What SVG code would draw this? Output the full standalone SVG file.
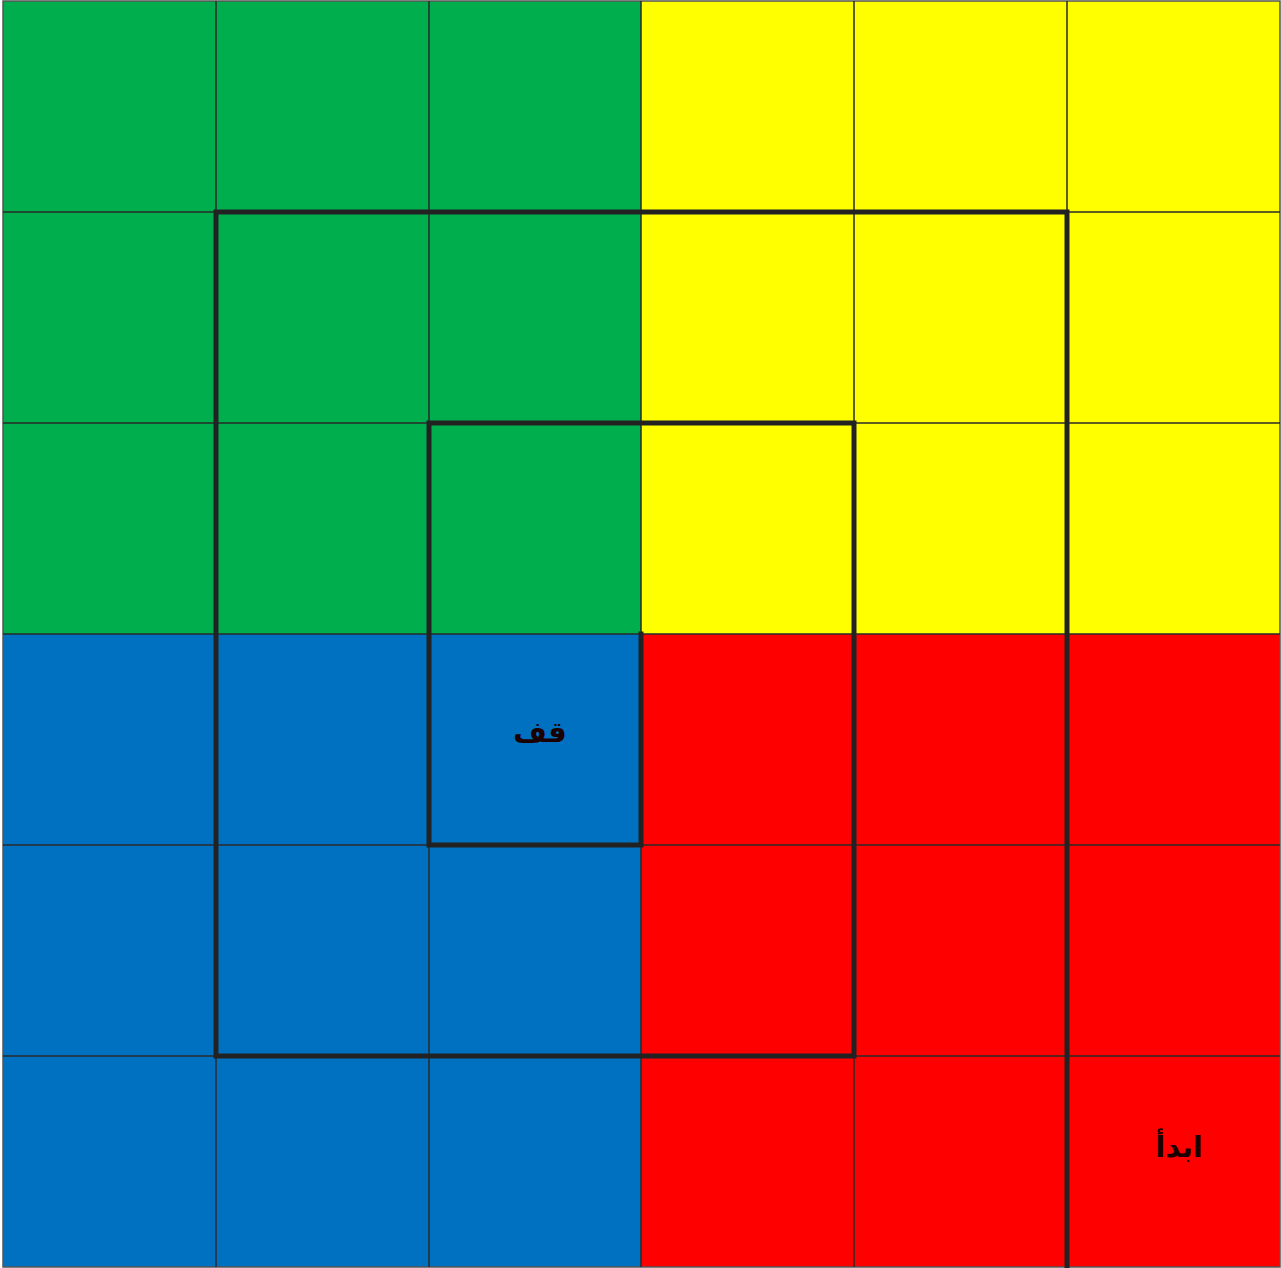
<svg xmlns="http://www.w3.org/2000/svg" width="1281" height="1268" viewBox="0 0 1281 1268">
<style>
.g{fill:#00AE4E}.y{fill:#FFFF00}.b{fill:#0070C0}.r{fill:#FF0000}
.grid{stroke:#2a2a2a;stroke-width:1.5;fill:none}
.path{stroke:#222222;stroke-width:5;fill:none;stroke-linejoin:miter;stroke-linecap:square}
.lbl{font-family:"DejaVu Sans","Noto Sans",sans-serif;font-weight:bold;font-size:29px;fill:#1a0000;text-anchor:middle}
</style>
<rect x="0" y="0" width="1281" height="1268" fill="#ffffff"/>
<g id="quadrants">
<rect id="green" class="g" x="3" y="1" width="638" height="633"/>
<rect id="yellow" class="y" x="641" y="1" width="639" height="633"/>
<rect id="blue" class="b" x="3" y="634" width="638" height="633"/>
<rect id="red" class="r" x="641" y="634" width="639" height="633"/>
</g>
<g id="grid" class="grid">
<rect x="3" y="1" width="1277" height="1266" stroke="#555"/>
<path d="M216 1V1267M429 1V1267M641 1V1267M854 1V1267M1067 1V1267M3 212H1280M3 423H1280M3 634H1280M3 845H1280M3 1056H1280"/>
</g>
<g id="connectors">
<path class="path" d="M1067 1267V212H216V1056H854V423H429V845H641V634"/>
</g>
<g id="stop"><text class="lbl" x="540" y="742">قف</text></g>
<g id="start"><text class="lbl" x="1179" y="1157">ابدأ</text></g>
</svg>
